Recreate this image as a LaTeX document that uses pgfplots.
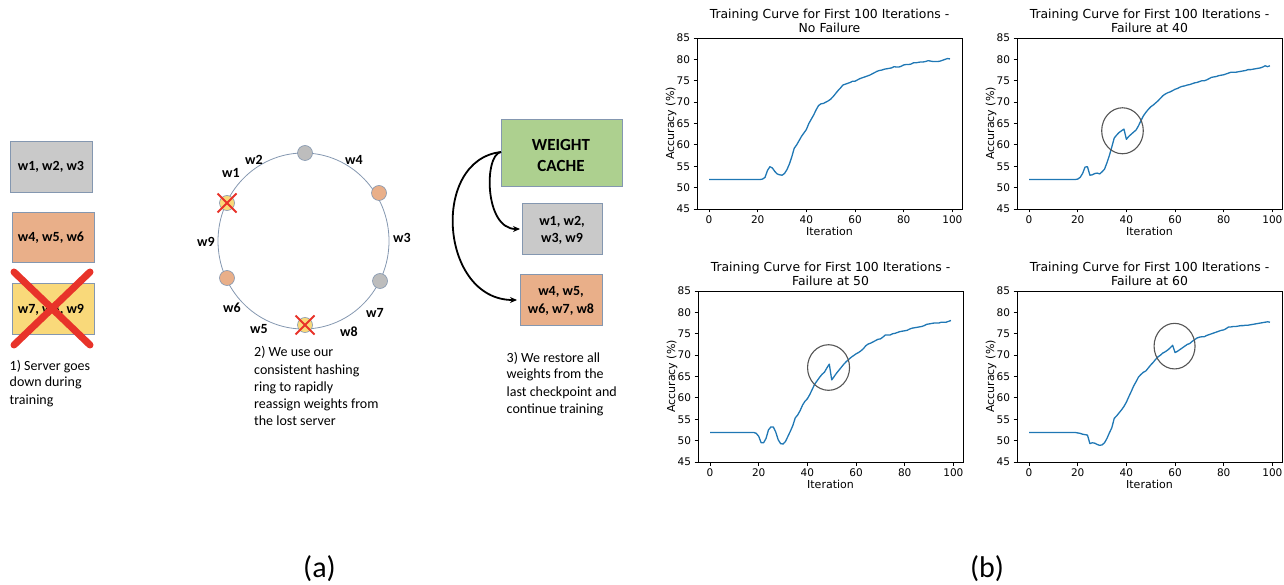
\documentclass[border=0pt]{standalone}
\usepackage{pgfplots}
\pgfplotsset{compat=1.18}
\usepackage{fontspec}
\setmainfont{Carlito}
\newfontfamily\dv{DejaVu Sans}
\usetikzlibrary{arrows.meta}
\definecolor{mplblue}{HTML}{1F77B4}
\definecolor{circgray}{HTML}{555555}
\definecolor{boxgray}{HTML}{C9C9C9}
\definecolor{nodegray}{HTML}{BDBDBD}
\definecolor{boxorange}{HTML}{E9AF89}
\definecolor{boxyellow}{HTML}{F9D97A}
\definecolor{boxgreen}{HTML}{ADD08F}
\definecolor{boxedge}{HTML}{8497B0}
\definecolor{xred}{HTML}{E8332A}
\pgfplotsset{mpl/.style={scale only axis, width=265pt, height=171pt,
  xmin=-4.95, xmax=103.95, ymin=45, ymax=85,
  xtick={0,20,...,100}, ytick={45,50,...,85},
  tick align=outside, major tick length=3.5pt,
  tick style={black, line width=0.8pt}, axis line style={line width=0.8pt},
  xtick pos=bottom, ytick pos=left,
  ticklabel style={font=\dv\fontsize{10.5}{12}\selectfont},
  /pgf/number format/assume math mode=true,
  xlabel=Iteration, ylabel={Accuracy (\%)},
  label style={font=\dv\fontsize{11}{13}\selectfont},
  xlabel style={at={(axis description cs:0.5,-0.133)}, anchor=center},
  ylabel style={at={(axis description cs:-0.098,0.5)}, anchor=center},
  title style={font=\dv\fontsize{12.4}{13.6}\selectfont, align=center, at={(axis description cs:0.5,1)}, anchor=south, inner sep=0pt, yshift=-0.5pt}},
  curve/.style={mplblue, line width=1.3pt, mark=none, line join=round}}
\begin{document}
\begin{tikzpicture}
\useasboundingbox (0,0) rectangle (1284pt,584pt);
\begin{scope}[x=1pt,y=-1pt,yshift=584pt]
% part 1
\draw[fill=boxgray, draw=boxedge, line width=0.6pt] (10,141) rectangle (92,192);
\draw[fill=boxorange, draw=boxedge, line width=0.6pt] (12,212) rectangle (94,262);
\draw[fill=boxyellow, draw=boxedge, line width=0.6pt] (12,283) rectangle (94,334);
\node[font=\bfseries\fontsize{14}{17}\selectfont] at (51,167) {w1, w2, w3};
\node[font=\bfseries\fontsize{14}{17}\selectfont] at (51,238) {w4, w5, w6};
\node[font=\bfseries\fontsize{14}{17}\selectfont] at (51,310) {w7, w8, w9};
\draw[xred, line width=7pt, line cap=round] (14,272) -- (90,345) (90,272) -- (14,345);
\node[anchor=base west, inner sep=0, font=\fontsize{14}{17}\selectfont] at (9.5,370) {1) Server goes};
\node[anchor=base west, inner sep=0, font=\fontsize{14}{17}\selectfont] at (9.5,387) {down during};
\node[anchor=base west, inner sep=0, font=\fontsize{14}{17}\selectfont] at (9.5,404) {training};
% part 2
\draw[boxedge, line width=0.8pt] (303.5,241) ellipse [x radius=85.5pt, y radius=88pt];
\draw[fill=nodegray, draw=boxedge, line width=0.6pt] (305,153) circle[radius=7.5pt];
\draw[fill=boxorange, draw=boxedge, line width=0.6pt] (379,193) circle[radius=7.5pt];
\draw[fill=nodegray, draw=boxedge, line width=0.6pt] (380,281) circle[radius=7.5pt];
\draw[fill=boxorange, draw=boxedge, line width=0.6pt] (227,278) circle[radius=7.5pt];
\draw[fill=boxyellow, draw=boxedge, line width=0.6pt] (227,203) circle[radius=7.5pt];
\draw[fill=boxyellow, draw=boxedge, line width=0.6pt] (305,325) circle[radius=7.5pt];
\draw[xred, line width=1.8pt] (217.5,193.5) -- (236.5,212.5) (236.5,193.5) -- (217.5,212.5);
\draw[xred, line width=1.8pt] (295.5,315.5) -- (314.5,334.5) (314.5,315.5) -- (295.5,334.5);
\begin{scope}[every node/.style={font=\bfseries\fontsize{14}{17}\selectfont}]
\node at (254,160) {w2};
\node at (354,160) {w4};
\node at (231,173) {w1};
\node at (402,238) {w3};
\node at (206,242) {w9};
\node at (232,308) {w6};
\node at (375,313) {w7};
\node at (259,329) {w5};
\node at (349,332) {w8};
\end{scope}
\begin{scope}[every node/.style={anchor=base west, inner sep=0, font=\fontsize{14}{17}\selectfont}]
\node at (254,357) {2) We use our};
\node at (254,374) {consistent hashing};
\node at (254,391) {ring to rapidly};
\node at (254,408) {reassign weights from};
\node at (254,425) {the lost server};
\node at (506.5,362) {3) We restore all};
\node at (506.5,379) {weights from the};
\node at (506.5,396) {last checkpoint and};
\node at (506.5,413) {continue training};
\end{scope}
% part 3
\draw[fill=boxgreen, draw=boxedge, line width=0.6pt] (501,119) rectangle (622,186);
\draw[fill=boxgray, draw=boxedge, line width=0.6pt] (522,203) rectangle (602,254);
\draw[fill=boxorange, draw=boxedge, line width=0.6pt] (520,274) rectangle (602,325);
\node[anchor=base, inner sep=0, font=\bfseries\fontsize{17}{21}\selectfont] at (561,151) {WEIGHT};
\node[anchor=base, inner sep=0, font=\bfseries\fontsize{17}{21}\selectfont] at (561,172) {CACHE};
\node[anchor=base, inner sep=0, font=\bfseries\fontsize{14}{17}\selectfont] at (562,226) {w1, w2,};
\node[anchor=base, inner sep=0, font=\bfseries\fontsize{14}{17}\selectfont] at (562,243) {w3, w9};
\node[anchor=base, inner sep=0, font=\bfseries\fontsize{14}{17}\selectfont] at (561,296) {w4, w5,};
\node[anchor=base, inner sep=0, font=\bfseries\fontsize{14}{17}\selectfont] at (561,313.5) {w6, w7, w8};
\draw[black, line width=1.8pt, -{Stealth[length=7pt,width=6pt]}] (501,152) .. controls (484,154) and (484,229) .. (520,229);
\draw[black, line width=1.8pt, -{Stealth[length=7pt,width=6pt]}] (501,152) .. controls (430,160) and (440,300) .. (517,300);
% captions
\node[font=\fontsize{30}{36}\selectfont] at (319.5,569) {(a)};
\node[font=\fontsize{30}{36}\selectfont] at (987,569) {(b)};
\end{scope}
% plots
\begin{axis}[mpl, at={(697pt,375pt)}, anchor=south west,
  title={Training Curve for First 100 Iterations -\\No Failure}]
\addplot[curve] coordinates {(0,51.9)(21,51.9)(22,52.0)(23,52.4)(24,54.0)(25,54.9)(26,54.6)(27,53.8)(28,53.2)(29,53.0)
(30,52.9)(31,53.3)(32,54.2)(33,55.5)(34,57.2)(35,59.2)(36,60.0)(37,61.0)(38,62.0)(39,62.8)
(40,63.6)(41,65.0)(42,66.0)(43,67.0)(44,68.2)(45,69.2)(46,69.6)(47,69.7)(48,70.0)(49,70.3)
(50,70.7)(51,71.3)(52,72.0)(53,72.7)(54,73.3)(55,74.0)(56,74.2)(57,74.4)(58,74.6)(59,74.9)
(60,74.9)(61,75.2)(62,75.5)(63,75.7)(64,75.9)(65,76.1)(66,76.3)(67,76.6)(68,76.9)(69,77.2)
(70,77.4)(71,77.5)(72,77.7)(73,77.8)(74,77.9)(75,78.0)(76,78.3)(77,78.2)(78,78.2)(79,78.4)
(80,78.7)(81,78.8)(82,78.8)(83,78.9)(84,79.2)(85,79.2)(86,79.3)(87,79.4)(88,79.4)(89,79.5)
(90,79.7)(91,79.6)(92,79.5)(93,79.5)(94,79.5)(95,79.6)(96,79.8)(97,80.0)(98,80.2)(99,80.1)};
\end{axis}
\begin{axis}[mpl, at={(1017pt,375pt)}, anchor=south west,
  title={Training Curve for First 100 Iterations -\\Failure at 40}]
\addplot[curve] coordinates {(0,51.9)(19,51.9)(20,52.0)(21,52.4)(22,53.3)(23,54.8)(24,54.9)(25,52.9)(26,53.0)(27,53.3)(28,53.4)(29,53.2)
(30,53.7)(31,54.3)(32,55.8)(33,57.5)(34,59.5)(35,61.6)(36,62.3)(37,62.9)(38,63.3)(39,63.7)
(40,61.3)(41,62.0)(42,62.5)(43,63.0)(44,63.5)(45,64.5)(46,65.7)(47,66.8)(48,67.6)(49,68.3)
(50,68.9)(51,69.3)(52,69.8)(53,70.3)(54,70.9)(55,71.5)(56,71.9)(57,72.2)(58,72.4)(59,72.7)
(60,73.0)(61,73.2)(62,73.5)(63,73.7)(64,73.8)(65,74.0)(66,74.1)(67,74.3)(68,74.5)(69,74.6)
(70,74.8)(71,75.0)(72,75.0)(73,75.2)(74,75.5)(75,75.8)(76,75.9)(77,76.0)(78,76.2)(79,76.3)
(80,76.4)(81,76.6)(82,76.8)(83,77.0)(84,77.0)(85,77.0)(86,77.1)(87,77.2)(88,77.3)(89,77.4)
(90,77.6)(91,77.6)(92,77.7)(93,77.8)(94,77.9)(95,78.0)(96,78.2)(97,78.5)(98,78.3)(99,78.5)};
\draw[circgray, line width=1.1pt] (axis cs:38.4,63.3) ellipse [x radius=20.8pt, y radius=23pt];
\end{axis}
\begin{axis}[mpl, at={(698pt,122pt)}, anchor=south west,
  title={Training Curve for First 100 Iterations -\\Failure at 50}]
\addplot[curve] coordinates {(0,51.9)(18,51.9)(19,51.7)(20,51.0)(21,49.5)(22,49.5)(23,50.5)(24,52.5)(25,53.2)(26,53.2)(27,52.0)(28,50.2)(29,49.3)
(30,49.2)(31,49.8)(32,51.0)(33,52.2)(34,53.5)(35,55.3)(36,56.0)(37,57.0)(38,58.3)(39,59.2)
(40,59.8)(41,60.8)(42,62.0)(43,63.2)(44,64.0)(45,64.8)(46,65.5)(47,66.0)(48,67.0)(49,67.9)
(50,64.2)(51,65.0)(52,65.8)(53,66.5)(54,67.2)(55,67.9)(56,68.5)(57,69.0)(58,69.5)(59,69.9)
(60,70.3)(61,70.6)(62,71.0)(63,71.5)(64,72.2)(65,72.6)(66,72.8)(67,73.1)(68,73.4)(69,73.7)
(70,73.8)(71,74.2)(72,74.7)(73,74.7)(74,74.7)(75,75.0)(76,75.1)(77,75.3)(78,75.5)(79,75.6)
(80,75.7)(81,75.8)(82,76.1)(83,76.3)(84,76.4)(85,76.5)(86,76.6)(87,76.7)(88,76.9)(89,77.2)
(90,77.3)(91,77.4)(92,77.5)(93,77.5)(94,77.5)(95,77.7)(96,77.7)(97,77.7)(98,77.9)(99,78.1)};
\draw[circgray, line width=1.1pt] (axis cs:48.7,67.1) ellipse [x radius=21pt, y radius=22.8pt];
\end{axis}
\begin{axis}[mpl, at={(1017pt,122pt)}, anchor=south west,
  title={Training Curve for First 100 Iterations -\\Failure at 60}]
\addplot[curve] coordinates {(0,51.9)(19,51.9)(20,51.8)(21,51.7)(22,51.5)(23,51.4)(24,51.3)(25,49.3)(26,49.5)(27,49.4)(28,49.1)(29,48.9)
(30,49.0)(31,49.5)(32,50.5)(33,51.8)(34,53.0)(35,55.2)(36,55.8)(37,56.5)(38,57.2)(39,58.0)
(40,59.0)(41,60.3)(42,61.5)(43,62.8)(44,63.8)(45,64.9)(46,65.5)(47,66.0)(48,66.3)(49,67.0)
(50,67.7)(51,68.3)(52,69.0)(53,69.6)(54,70.0)(55,70.5)(56,70.8)(57,71.2)(58,71.7)(59,72.3)
(60,70.6)(61,70.9)(62,71.3)(63,71.7)(64,72.1)(65,72.5)(66,72.7)(67,73.2)(68,73.6)(69,74.0)
(70,74.2)(71,74.3)(72,74.3)(73,74.6)(74,74.8)(75,75.0)(76,75.2)(77,75.4)(78,75.6)(79,75.8)
(80,75.9)(81,76.2)(82,76.6)(83,76.6)(84,76.7)(85,76.7)(86,76.8)(87,76.9)(88,76.9)(89,77.0)
(90,77.0)(91,77.1)(92,77.2)(93,77.3)(94,77.4)(95,77.5)(96,77.6)(97,77.7)(98,77.8)(99,77.7)};
\draw[circgray, line width=1.1pt] (axis cs:59.8,72.1) ellipse [x radius=20.5pt, y radius=22.8pt];
\end{axis}
\end{tikzpicture}
\end{document}
